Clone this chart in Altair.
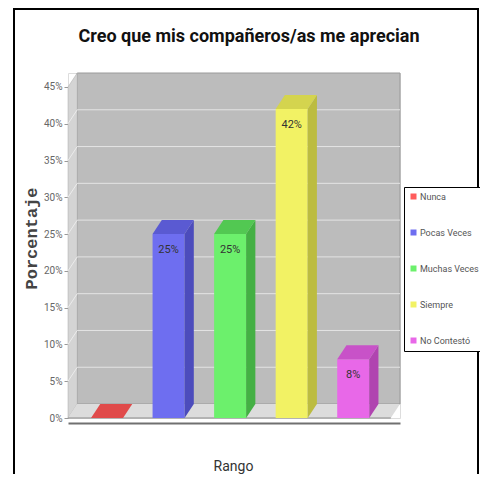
import altair as alt
import pandas as pd

# ---------------- data ----------------
categories = ["Nunca", "Pocas Veces", "Muchas Veces", "Siempre", "No Contestó"]
values = [0, 25, 25, 42, 8]
front_colors = ["#ff5c5c", "#6e6ef0", "#6cf06c", "#f2f264", "#e868e8"]
top_colors = ["#e04a4a", "#5a5ad2", "#52c852", "#d4d44e", "#c852c8"]
side_colors = ["#c43c3c", "#4c4cbc", "#44b044", "#bcbc40", "#b044b0"]
y_ticks = [0, 5, 10, 15, 20, 25, 30, 35, 40, 45]
title_text = "Creo que mis compañeros/as me aprecian"

# ---------------- geometry (in data units) ----------------
XL, XR = -0.634, 4.76     # left of floor front, right of back wall
DX, DY = 0.15, 1.9        # 3D depth offsets
HW = 0.26                 # half width of bar front face
YMAX = 45

xs = alt.Scale(domain=[XL, XR], nice=False, zero=False)
ys = alt.Scale(domain=[0, YMAX + DY], nice=False, zero=False)
FONT = "Roboto"

x_axis = alt.Axis(title="Rango", labels=False, ticks=False, grid=False,
                  domain=True, domainColor="#707070", domainWidth=2, offset=5,
                  titleFont=FONT, titleFontSize=14, titleFontWeight="normal",
                  titleColor="#333", titleX=165, titleY=43,
                  titleBaseline="middle", titleAlign="center")
y_axis = alt.Axis(values=y_ticks, labelExpr="datum.value + '%'", grid=False,
                  domain=False, tickSize=4, tickColor="#999", labelPadding=2,
                  labelFont=FONT, labelFontSize=10, labelColor="#666",
                  title="Porcentaje", titleFont="Liberation Mono",
                  titleFontSize=17, titleFontWeight="bold", titleColor="#444",
                  titleX=-37, titleY=165, titleAngle=270,
                  titleAlign="center", titleBaseline="middle")


def X(f):
    return alt.X(f, scale=xs, axis=x_axis)


def Y(f):
    return alt.Y(f, scale=ys, axis=y_axis)


# back wall
back_df = pd.DataFrame({"x": [XL + DX], "x2": [XR], "y": [DY], "y2": [YMAX + DY]})
back = alt.Chart(back_df).mark_rect(fill="#bcbcbc", stroke="#9a9a9a", strokeWidth=1).encode(
    x=X("x:Q"), x2="x2:Q", y=Y("y:Q"), y2="y2:Q")

# left wall
lw_df = pd.DataFrame({"x": [XL, XL + DX], "y": [YMAX, YMAX + DY], "y2": [0, DY]})
leftwall = alt.Chart(lw_df).mark_area(fill="#d4d4d4", stroke="#a8a8a8", strokeWidth=0.5).encode(
    x=X("x:Q"), y=Y("y:Q"), y2="y2:Q")

# floor
fl_df = pd.DataFrame({"y": [0, DY], "x": [XL, XL + DX], "x2": [XR - DX, XR]})
floor = alt.Chart(fl_df).mark_area(orient="horizontal", fill="#dcdcdc").encode(
    y=Y("y:Q"), x=X("x:Q"), x2="x2:Q")

# grid lines on back wall and left wall
grid_vals = [t for t in y_ticks if 0 < t < YMAX]
gb_df = pd.DataFrame({"y": [t + DY for t in grid_vals], "x": [XL + DX] * len(grid_vals),
                      "x2": [XR] * len(grid_vals)})
grid_back = alt.Chart(gb_df).mark_rule(color="#e4e4e4", strokeWidth=1).encode(
    y=Y("y:Q"), x=X("x:Q"), x2="x2:Q")
gl_df = pd.DataFrame({"y": grid_vals, "y2": [t + DY for t in grid_vals],
                      "x": [XL] * len(grid_vals), "x2": [XL + DX] * len(grid_vals)})
grid_left = alt.Chart(gl_df).mark_rule(color="#ececec", strokeWidth=1).encode(
    y=Y("y:Q"), y2="y2:Q", x=X("x:Q"), x2="x2:Q")

# floor front edge
edge = alt.Chart(pd.DataFrame({"y": [0], "x": [XL], "x2": [XR - DX]})).mark_rule(
    color="#8a8a8a", strokeWidth=1).encode(y=Y("y:Q"), x=X("x:Q"), x2="x2:Q")

# bars
idx = list(range(len(categories)))
front_df = pd.DataFrame({
    "cat": categories, "x": [i - HW for i in idx], "x2": [i + HW for i in idx],
    "y": [0] * len(idx), "v": values})
front = alt.Chart(front_df).mark_rect().encode(
    x=X("x:Q"), x2="x2:Q", y=Y("y:Q"), y2="v:Q",
    color=alt.Color("cat:N", scale=alt.Scale(domain=categories, range=front_colors),
                    legend=alt.Legend(title=None, orient="none", legendX=336, legendY=114,
                                      strokeColor="black", fillColor="white", padding=5,
                                      rowPadding=26, symbolType="square", symbolSize=36,
                                      symbolStrokeWidth=0, labelFont=FONT, labelFontSize=9,
                                      labelColor="#555", labelOffset=2, labelLimit=120)),
)

side_rows, top_rows = [], []
for i, (c, v) in enumerate(zip(categories, values)):
    side_rows.append({"cat": c, "x": i + HW, "y": v, "y2": 0, "col": side_colors[i]})
    side_rows.append({"cat": c, "x": i + HW + DX, "y": v + DY, "y2": DY, "col": side_colors[i]})
    top_rows.append({"cat": c, "y": v, "x": i - HW, "x2": i + HW, "col": top_colors[i]})
    top_rows.append({"cat": c, "y": v + DY, "x": i - HW + DX, "x2": i + HW + DX, "col": top_colors[i]})
side = alt.Chart(pd.DataFrame(side_rows)).mark_area().encode(
    x=X("x:Q"), y=Y("y:Q"), y2="y2:Q",
    fill=alt.Fill("col:N", scale=None, legend=None), detail="cat:N")
top = alt.Chart(pd.DataFrame(top_rows)).mark_area(orient="horizontal").encode(
    y=Y("y:Q"), x=X("x:Q"), x2="x2:Q",
    fill=alt.Fill("col:N", scale=None, legend=None), detail="cat:N")

lab_df = pd.DataFrame({"x": idx, "y": values, "label": [f"{v}%" for v in values]})
labels = alt.Chart(lab_df).transform_filter("datum.y > 0").mark_text(
    font=FONT, fontSize=11, color="#333", dy=16, baseline="middle").encode(
    x=X("x:Q"), y=Y("y:Q"), text="label:N")

# title and frame (decoration)
one = pd.DataFrame({"a": [0]})
title = alt.Chart(one).mark_text(font="Roboto", fontSize=18, fontWeight="bold", color="#111",
                                 align="center", baseline="middle").encode(
    x=alt.value(181), y=alt.value(-36), text=alt.value(title_text))
frame_left = alt.Chart(one).mark_rule(color="black", strokeWidth=2).encode(
    x=alt.value(-54), y=alt.value(-64), y2=alt.value(401))
frame_top = alt.Chart(one).mark_rule(color="black", strokeWidth=2).encode(
    x=alt.value(-55), x2=alt.value(411), y=alt.value(-64))
frame_right = alt.Chart(one).mark_rule(color="black", strokeWidth=2).encode(
    x=alt.value(410), y=alt.value(-64), y2=alt.value(401))

chart = alt.layer(
    back, leftwall, floor, grid_back, grid_left, edge, front, side, top, labels,
    title, frame_left, frame_top, frame_right
).properties(
    width=332, height=345,
    autosize=alt.AutoSizeParams(type="none"),
    padding={"left": 60, "top": 65, "right": 80, "bottom": 56},
).configure_view(stroke=None).configure(background="white")

chart.save("out.html", embed_options={"renderer": "svg", "actions": False})
